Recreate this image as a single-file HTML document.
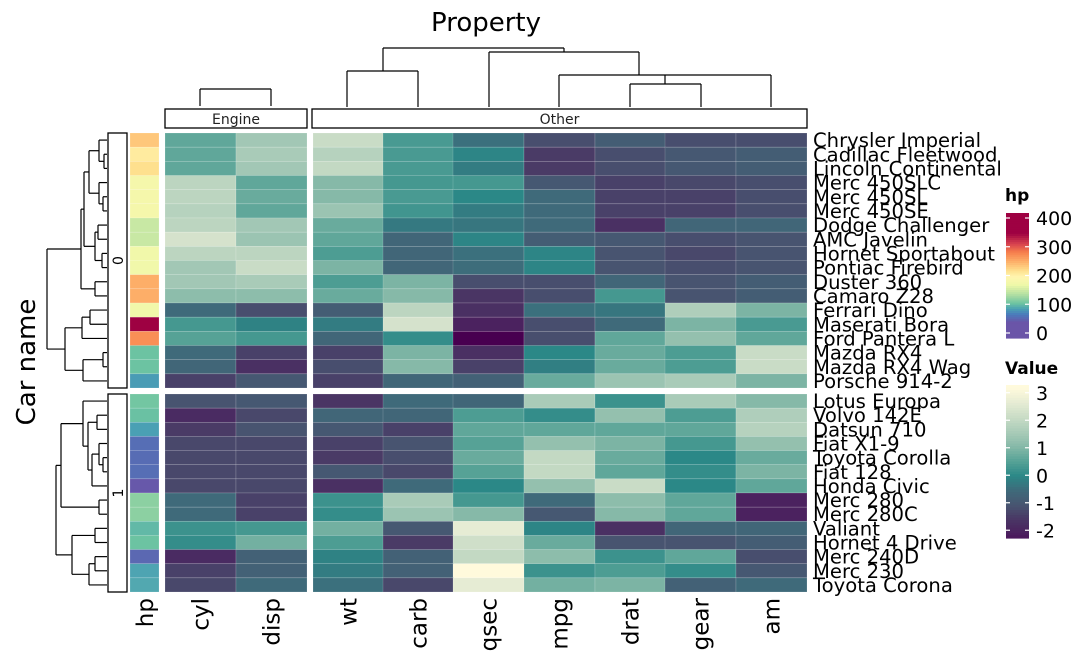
<!DOCTYPE html>
<html><head><meta charset="utf-8"><style>
html,body{margin:0;padding:0;background:#fff;}
svg{display:block;font-family:"DejaVu Sans","Liberation Sans",sans-serif;}
</style></head><body>
<svg id="chart" width="1080" height="667" viewBox="0 0 1080 667" xmlns="http://www.w3.org/2000/svg">
<text x="486" y="31" font-size="26" text-anchor="middle">Property</text>
<text transform="translate(35,362) rotate(-90)" font-size="26" text-anchor="middle">Car name</text>
<g id="g"></g>
</svg>
<script>
const rowsTop = ["Chrysler Imperial","Cadillac Fleetwood","Lincoln Continental","Merc 450SLC","Merc 450SL","Merc 450SE","Dodge Challenger","AMC Javelin","Hornet Sportabout","Pontiac Firebird","Duster 360","Camaro Z28","Ferrari Dino","Maserati Bora","Ford Pantera L","Mazda RX4","Mazda RX4 Wag","Porsche 914-2"];
const rowsBot = ["Lotus Europa","Volvo 142E","Datsun 710","Fiat X1-9","Toyota Corolla","Fiat 128","Honda Civic","Merc 280","Merc 280C","Valiant","Hornet 4 Drive","Merc 240D","Merc 230","Toyota Corona"];
const colsEngine = ["cyl","disp"];
const colsOther = ["wt","carb","qsec","mpg","drat","gear","am"];
const hpTop = [230,205,215,180,180,180,150,150,175,175,245,245,175,335,264,110,110,91];
const hpBot = [113,109,93,66,65,66,52,123,123,105,110,62,95,97];
// values per row: cyl, disp, wt, carb, qsec, mpg, drat, gear, am
const valsTop = [
[0.6,1.4,2.0,0.35,-0.4,-1.1,-0.8,-1.1,-1.1],
[0.6,1.5,1.7,0.35,-0.05,-1.4,-1.1,-0.9,-0.8],
[0.6,1.4,1.9,0.35,-0.2,-1.4,-1.1,-0.9,-0.8],
[1.8,0.6,1.0,0.3,0.3,-0.9,-1.3,-1.2,-1.1],
[1.8,0.7,1.0,0.35,0.0,-0.5,-1.3,-1.3,-1.1],
[1.7,0.6,1.3,0.25,-0.2,-0.5,-1.3,-1.3,-1.1],
[1.8,1.4,0.7,-0.25,-0.3,-0.5,-1.6,-0.6,-0.6],
[2.2,1.3,0.6,-0.6,-0.05,-0.8,-0.9,-1.1,-1.0],
[1.8,1.8,0.4,-0.6,-0.4,-0.05,-1.0,-1.2,-1.0],
[1.4,2.0,0.9,-0.6,-0.45,-0.05,-1.0,-1.1,-1.0],
[1.4,1.5,0.4,0.9,-1.1,-1.1,-0.6,-1.0,-0.8],
[1.1,1.1,0.7,1.0,-1.5,-1.1,0.3,-1.0,-0.8],
[-0.5,-1.1,-0.8,1.8,-1.6,-0.4,-0.3,1.6,0.9],
[0.3,-0.1,-0.2,2.2,-1.9,-1.1,-0.5,0.9,0.35],
[0.5,0.3,-0.6,0.1,-2.4,-1.1,0.6,1.2,0.6],
[-0.5,-1.3,-1.3,0.9,-1.6,0.0,0.7,0.4,2.0],
[-0.6,-1.6,-1.1,1.0,-1.3,-0.15,0.7,0.4,2.0],
[-1.3,-0.9,-1.3,-0.6,-0.7,0.7,1.3,1.5,0.9]];
const valsBot = [
[-1.0,-0.9,-1.5,-0.5,-0.6,1.5,0.2,1.5,1.0],
[-1.7,-1.2,-0.6,-0.6,0.4,0.1,1.2,0.4,1.6],
[-1.4,-1.0,-0.9,-1.3,0.6,0.6,0.6,0.6,1.7],
[-1.2,-1.2,-1.3,-1.0,0.5,1.2,0.9,0.3,1.2],
[-1.2,-1.2,-1.4,-1.1,0.7,1.9,0.7,0.0,0.7],
[-1.2,-1.2,-0.9,-1.2,0.5,1.9,0.6,0.1,0.9],
[-1.2,-1.2,-1.6,-0.5,0.0,1.2,2.0,0.0,0.6],
[-0.5,-1.3,0.2,1.5,0.3,-0.5,1.1,0.6,-1.9],
[-0.5,-1.3,0.1,1.3,1.0,-0.9,1.0,0.6,-1.9],
[0.2,0.3,0.8,-0.9,2.5,-0.05,-1.6,-0.6,-0.6],
[0.1,0.8,0.4,-1.4,2.1,0.7,-1.0,-1.0,-0.8],
[-1.7,-0.7,-0.1,-0.7,1.9,1.1,0.2,0.6,-1.1],
[-1.3,-0.7,-0.2,-0.7,3.0,0.2,0.4,0.1,-0.9],
[-1.2,-0.5,-0.4,-1.2,2.5,0.8,0.9,-0.7,-0.5]];
const hpTicks = [0,100,200,300,400];
const valTicks = [-2,-1,0,1,2,3];

const NS="http://www.w3.org/2000/svg";
const G=document.getElementById('g');
function mk(tag,attrs,parent){const e=document.createElementNS(NS,tag);for(const k in attrs)e.setAttribute(k,attrs[k]);(parent||G).appendChild(e);return e;}
function hex(h){return [parseInt(h.slice(1,3),16),parseInt(h.slice(3,5),16),parseInt(h.slice(5,7),16)];}
function interp(stops,v){
  if(v<=stops[0][0])return 'rgb('+hex(stops[0][1])+')';
  for(let i=1;i<stops.length;i++){if(v<=stops[i][0]){const a=stops[i-1],b=stops[i];const t=(v-a[0])/(b[0]-a[0]);const ca=hex(a[1]),cb=hex(b[1]);return 'rgb('+ca.map((c,j)=>Math.round(c+(cb[j]-c)*t)).join(',')+')';}}
  return 'rgb('+hex(stops[stops.length-1][1])+')';
}
const valStops=[[-2.4,'#480050'],[-2,'#4b1d5e'],[-1.5,'#4a3564'],[-1,'#485470'],[-0.5,'#3f6a7a'],[0,'#2b8887'],[0.5,'#56a296'],[1,'#86b9a8'],[1.5,'#a9cbb8'],[2,'#c9dcc6'],[2.5,'#e6ecd4'],[3,'#fffadc']];
const hpStops=[[50,'#6a55a8'],[75,'#4a7cbc'],[93,'#4aa0b4'],[110,'#6cc3a2'],[140,'#b5e0a2'],[170,'#eef8a8'],[195,'#fff6b0'],[215,'#fee08e'],[245,'#fdae68'],[275,'#f67d4c'],[300,'#d8434f'],[335,'#9e0142'],[400,'#9e0142']];
const valColor=v=>interp(valStops,v), hpColor=v=>interp(hpStops,v);

const colX=[165,236,313,383,453,524,595,665,736], colW=71;
const allCols=colsEngine.concat(colsOther);
const groups=[{rows:rowsTop,vals:valsTop,hp:hpTop,y0:133,h:255,label:'0'},{rows:rowsBot,vals:valsBot,hp:hpBot,y0:394,h:198,label:'1'}];
groups.forEach((g,gi)=>{
  const rh=g.h/g.rows.length;
  g.rows.forEach((name,i)=>{
    const y=g.y0+i*rh;
    const hr=mk('rect',{x:130,y:y,width:29,height:rh,fill:hpColor(g.hp[i]),stroke:'rgba(255,255,255,0.3)','stroke-width':0.5});
    
    
    g.vals[i].forEach((v,j)=>{
      const c=mk('rect',{x:colX[j],y:y,width:colW,height:rh,fill:valColor(v),stroke:'rgba(255,255,255,0.25)','stroke-width':0.6});
      
      
    });
    const t=mk('text',{x:813,y:y+rh/2+7,'font-size':19.6,fill:'#000'});
    t.textContent=name;
    
    
  });
  const b=mk('rect',{x:108,y:g.y0,width:19,height:g.h,fill:'none',stroke:'#000','stroke-width':1.3});
  
  
  const bl=mk('text',{transform:`translate(123,${g.y0+g.h/2}) rotate(-90)`,'font-size':14,'text-anchor':'middle'});
  bl.textContent=g.label;
  
  
});
const labCols=[['hp',145]].concat(allCols.map((c,j)=>[c,colX[j]+colW/2]));
labCols.forEach(([n,x])=>{
  const t=mk('text',{transform:`translate(${x+8},598) rotate(-90)`,'font-size':23,'text-anchor':'end'});
  t.textContent=n;
  
  
});
[['Engine',165,307],['Other',312,807]].forEach(([n,x0,x1])=>{
  const r=mk('rect',{x:x0,y:109,width:x1-x0,height:19,fill:'#fff',stroke:'#000','stroke-width':1.3});
  
  
  const t=mk('text',{x:(x0+x1)/2,y:124,'font-size':14,'text-anchor':'middle',fill:'#222'});
  t.textContent=n;
  
  
});
function line(x1,y1,x2,y2,name){const l=mk('line',{x1,y1,x2,y2,stroke:'#000','stroke-width':1.2});return l;}
[[200,89,271,89],[200,89,200,106],[271,89,271,106],
 [383,48,564,48],[564,48,564,52],[383,48,383,71],[347,71,418,71],[347,71,347,107],[418,71,418,107],
 [489,52,639,52],[489,52,489,107],[639,52,639,75],[559,75,771,75],[559,75,559,107],[771,75,771,107],
 [665,75,665,84],[630,84,701,84],[630,84,630,107],[701,84,701,107]].forEach(s=>line(...s,'column-dendrogram-branch'));
function drawTree(node,y0,rh){
  if(typeof node==='number')return {y:y0+rh*(node+0.5),x:107};
  const ch=node[1].map(c=>drawTree(c,y0,rh));
  const ys=ch.map(c=>c.y);
  line(node[0],Math.min(...ys),node[0],Math.max(...ys),'row-dendrogram-branch');
  ch.forEach(c=>line(node[0],c.y,c.x,c.y,'row-dendrogram-branch'));
  return {y:(Math.min(...ys)+Math.max(...ys))/2,x:node[0]};
}
const treeTop=[47,[[81,[[84,[[89,[[99,[0,[104,[1,2]]]],[99,[3,[103,[4,5]]]]]],[95,[[98,[6,7]],[102,[8,9]]]]]],[95,[10,11]]]],[65,[[82,[[90,[12,13]],14]],[83,[[103,[15,16]],17]]]]]];
const treeBot=[56,[[61,[[83,[0,[88,[[97,[1,2]],[92,[[99,[3,[103,[4,5]]]],6]]]]]],[99,[7,8]]]],[72,[[95,[9,10]],[89,[[95,[11,12]],13]]]]]];
drawTree(treeTop,133,255/18);
drawTree(treeBot,394,198/14);
function legend(title,ty,y0,y1,vmin,vmax,ticks,colorFn,name){
  const t=mk('text',{x:1005,y:ty,'font-size':17,'font-weight':'bold'});t.textContent=title;
  
  
  const n=60;
  for(let i=0;i<n;i++){
    const v=vmax-(vmax-vmin)*(i+0.5)/n;
    const r=mk('rect',{x:1006,y:y0+(y1-y0)*i/n,width:23,height:(y1-y0)/n+0.6,fill:colorFn(v)});
    
    
  }
  const pad=5; const sc=v=>y1-pad-(v-vmin)/(vmax-vmin)*(y1-y0-2*pad);
  ticks.forEach(v=>{
    const y=sc(v);
    line(1006,y,1010,y,name+'-tick').setAttribute('stroke','#fff');
    line(1025,y,1029,y,name+'-tick').setAttribute('stroke','#fff');
    const tx=mk('text',{x:1036,y:y+7,'font-size':19});tx.textContent=v;
    
    
  });
}
legend('hp',201,213,338,0,400,hpTicks,hpColor,'hp-legend');
legend('Value',374,385,538,-2.1,3.1,valTicks,valColor,'value-legend');
</script>
</body></html>
